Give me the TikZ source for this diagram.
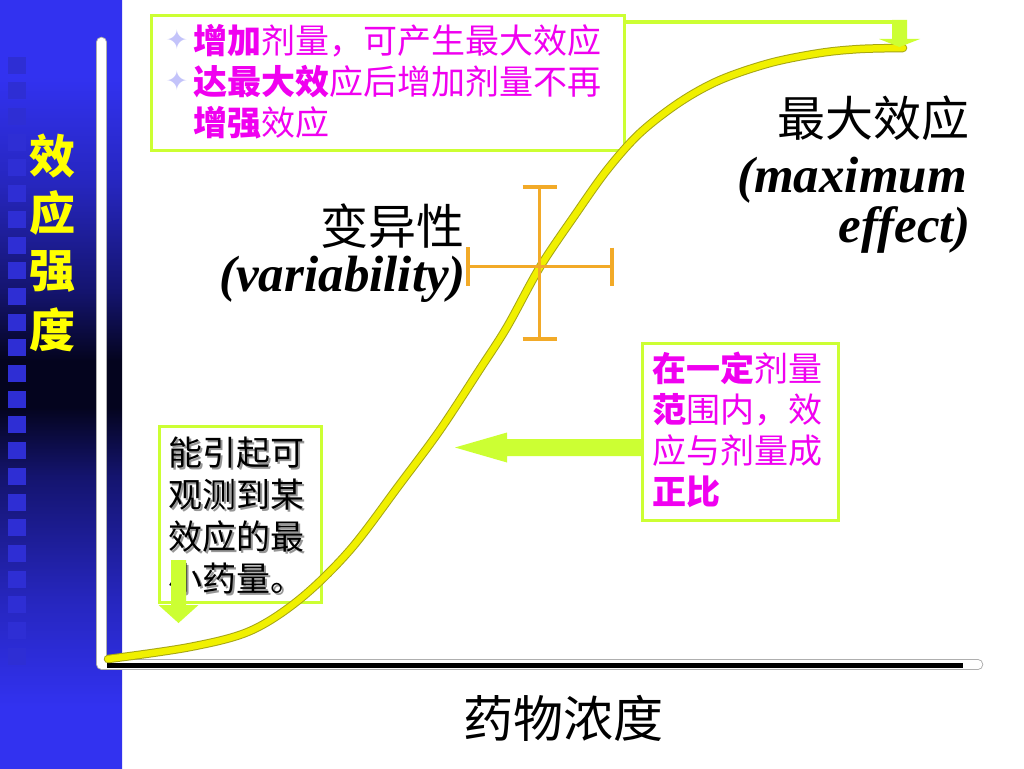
\documentclass[tikz,border=0pt]{standalone}
\usepackage{fontspec}
\setmainfont{Liberation Serif}
\newfontfamily\cjk{Noto Sans CJK SC}
\newfontfamily\djv{DejaVu Sans}
\usetikzlibrary{calc}
\definecolor{limeb}{RGB}{204,255,51}
\definecolor{mag}{RGB}{240,0,240}
\definecolor{orng}{RGB}{242,170,40}
\definecolor{curvey}{RGB}{240,240,0}
\definecolor{curved}{RGB}{165,165,20}
\definecolor{bandb}{RGB}{50,50,240}
\definecolor{bandc}{RGB}{38,38,190}
\definecolor{bandm}{RGB}{20,20,110}
\definecolor{bandd}{RGB}{4,4,30}
\definecolor{sq}{RGB}{46,46,212}
\definecolor{lav}{RGB}{195,195,250}
\definecolor{axgray}{RGB}{175,175,175}
\definecolor{shad}{RGB}{150,150,150}
\definecolor{sidey}{RGB}{255,255,0}
\pgfdeclareverticalshading{band}{100bp}{color(0bp)=(bandb); color(29bp)=(bandb); color(36bp)=(bandc); color(44bp)=(bandm); color(48.5bp)=(bandd); color(51.5bp)=(bandd); color(56bp)=(bandm); color(63bp)=(bandc); color(70bp)=(bandb); color(100bp)=(bandb)}
\tikzset{
  gbox/.style={draw=limeb, line width=3pt, fill=white, rectangle, inner sep=0pt},
  mg/.style={text=mag, font=\cjk\fontsize{34}{40}\selectfont, inner sep=0pt, anchor=base west},
  bk/.style={text=black, font=\cjk\fontsize{34}{40}\selectfont, inner sep=0pt, anchor=base west},
  sh/.style={text=shad, font=\cjk\fontsize{34}{40}\selectfont, inner sep=0pt, anchor=base west},
  bul/.style={text=lav, font=\djv\fontsize{27}{30}\selectfont, inner sep=0pt},
  big/.style={font=\cjk\fontsize{48}{56}\selectfont, inner sep=0pt},
  lat/.style={font=\bfseries\itshape\fontsize{51}{58}\selectfont, inner sep=0pt},
  side/.style={text=sidey, font=\cjk\bfseries\fontsize{46}{50}\selectfont, inner sep=0pt},
  crossln/.style={draw=orng, line width=3.2pt},
  blockarrow/.style={fill=limeb, draw=none},
}
\begin{document}
\begin{tikzpicture}[x=1pt,y=-1pt]
\useasboundingbox (0,0) rectangle (1024,768);
\fill[white] (0,0) rectangle (1024,768);
% left band
\shade[shading=band] (0,0) rectangle (122,768);
\foreach \k in {-12,...,11} \fill[sq] (8,{365+25.7*\k}) rectangle (26,{382+25.7*\k});
\node[side] (s1) at (52,156) {效};
\node[side] (s2) at (52,213) {应};
\node[side] (s3) at (52,271) {强};
\node[side] (s4) at (52,330) {度};
% axes
\coordinate (ytop) at (101.5,42);
\coordinate (orig) at (101.5,664.5);
\coordinate (xend) at (978,664.5);
\draw[axgray, line width=10.5pt, line cap=round, line join=round] (ytop) -- (orig) -- (xend);
\draw[white, line width=8.5pt, line cap=round, line join=round] (ytop) -- (orig) -- (xend);
\coordinate (xa) at (107,665.5);
\coordinate (xb) at (963,665.5);
\draw[black, line width=5pt] (xa) -- (xb);
% boxes
\node[gbox, anchor=north west, minimum width=473pt, minimum height=135pt] (box1) at (149.5,14) {};
\node[gbox, anchor=north west, minimum width=196.5pt, minimum height=177pt] (box2) at (640.5,342) {};
\node[gbox, anchor=north west, minimum width=162pt, minimum height=176pt] (box3) at (158,425) {};
% box1 text
\node[bul] (u1) at (177,40) {✦};
\node[bul] (u2) at (177,81) {✦};
\node[mg] (b1a) at (193,53) {{\bfseries 增加}剂量，可产生最大效应};
\node[mg] (b1b) at (193,94) {{\bfseries 达最大效}应后增加剂量不再};
\node[mg] (b1c) at (193,135) {{\bfseries 增强}效应};
% box2 text
\node[mg] (b2a) at (652,381) {{\bfseries 在一定}剂量};
\node[mg] (b2b) at (652,422) {{\bfseries 范}围内，效};
\node[mg] (b2c) at (652,463) {应与剂量成};
\node[mg] (b2d) at (652,504) {{\bfseries 正比}};
% box3 text with shadow
\node[sh] (h3a) at (170,467) {能引起可};
\node[sh] (h3b) at (170,509) {观测到某};
\node[sh] (h3c) at (170,551) {效应的最};
\node[sh] (h3d) at (170,593) {小药量。};
\node[bk] (b3a) at (168,465) {能引起可};
\node[bk] (b3b) at (168,507) {观测到某};
\node[bk] (b3c) at (168,549) {效应的最};
\node[bk] (b3d) at (168,591) {小药量。};
% labels
\node[big, anchor=base east] (mx) at (970,136) {最大效应};
\node[lat, anchor=base east] (mx2) at (967,192) {(maximum};
\node[lat, anchor=base east] (mx3) at (971,242) {effect)};
\node[big, anchor=base east] (va) at (465,244) {变异性};
\node[lat, anchor=base east] (va2) at (466,291) {(variability)};
\node[big, font=\cjk\fontsize{50}{56}\selectfont, anchor=base] (xl) at (563,737) {药物浓度};
% curve
\draw[curvey, line width=6.5pt, line cap=round, preaction={draw=curved, line width=8.5pt, line cap=round}]
  plot[smooth, tension=0.55] coordinates {(108,659) (190,647) (250,631) (300,599) (350,550) (400,484) (440,430) (480,369) (507,327) (540,267) (575,215) (607,170) (640,133) (680,102) (720,80) (770,63) (820,53) (860,49) (903,48)};
% cross
\coordinate (cT) at (539.5,187);
\coordinate (cB) at (539.5,339);
\coordinate (cL) at (468,266.5);
\coordinate (cR) at (612,266.5);
\draw[crossln] (cT) -- (cB);
\draw[crossln] (cL) -- (cR);
\draw[crossln] ($(cT)+(-17,0)$) -- ($(cT)+(17,0)$);
\draw[crossln] ($(cB)+(-17,0)$) -- ($(cB)+(17,0)$);
\draw[crossln] ($(cL)+(0,-19.5)$) -- ($(cL)+(0,19.5)$);
\draw[crossln] ($(cR)+(0,-19)$) -- ($(cR)+(0,19)$);
% top arrow
\coordinate (tc) at (899.5,22);
\coordinate (tmax) at (899.5,47);
\draw[limeb, line width=4pt] (box1.east |- tc) -- ($(tc)+(7.5,0)$);
\fill[blockarrow] ($(tc)+(-7.5,-2)$) -- ($(tc)+(7.5,-2)$) -- ($(tc)+(7.5,17)$) -- ($(tc)+(20.5,17)$) -- (tmax) -- ($(tc)+(-20.5,17)$) -- ($(tc)+(-7.5,17)$) -- cycle;
% right arrow
\coordinate (ry) at (0,447.5);
\coordinate (ra) at (box2.west |- ry);
\coordinate (rtip) at (455,447.5);
\fill[blockarrow] ($(ra)+(1,-8.5)$) -- ($(rtip)+(52,-8.5)$) -- ($(rtip)+(52,-15)$) -- (rtip) -- ($(rtip)+(52,15)$) -- ($(rtip)+(52,8.5)$) -- ($(ra)+(1,8.5)$) -- cycle;
% down arrow in box3
\coordinate (dtop) at (178.5,560);
\coordinate (dtip) at (178.5,623);
\fill[blockarrow] ($(dtop)+(-7.5,0)$) -- ($(dtop)+(7.5,0)$) -- ($(dtip)+(7.5,-18)$) -- ($(dtip)+(20,-18)$) -- (dtip) -- ($(dtip)+(-20,-18)$) -- ($(dtip)+(-7.5,-18)$) -- cycle;
\end{tikzpicture}
\end{document}
